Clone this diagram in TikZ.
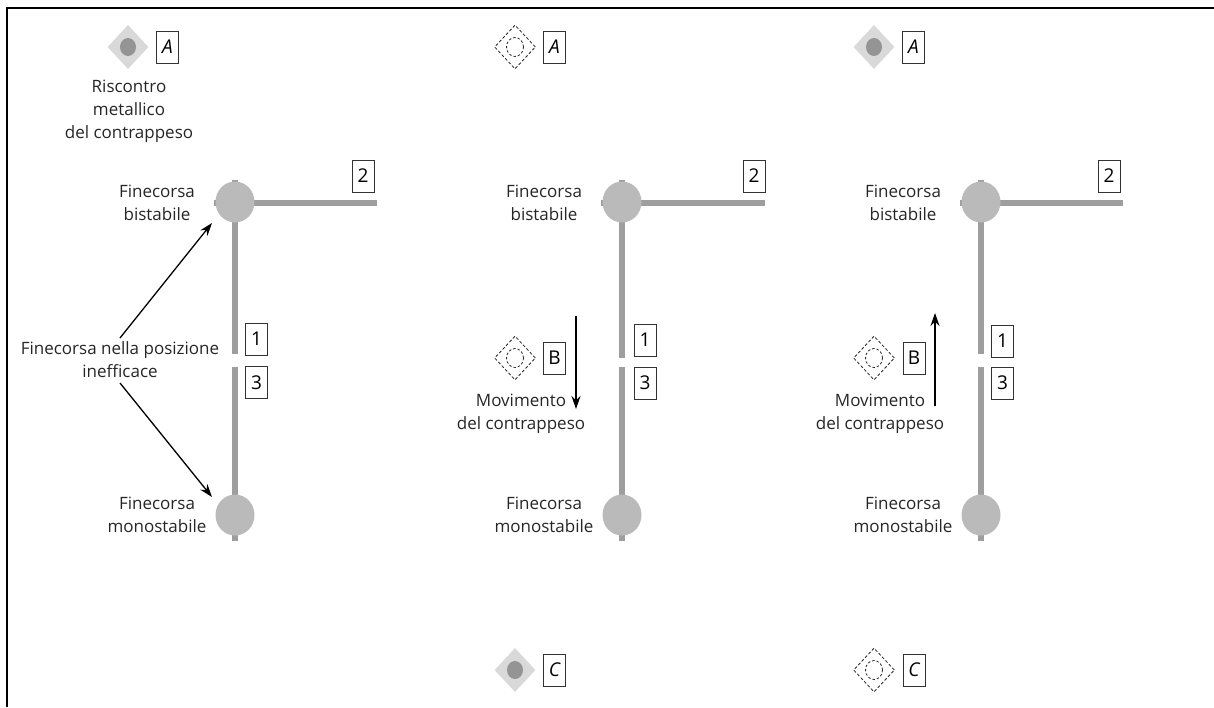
\documentclass[tikz,border=0pt]{standalone}
\usepackage{fontspec}
\setmainfont{Open Sans}
\usetikzlibrary{arrows.meta,positioning,shapes.geometric}
\definecolor{RailGrey}{rgb}{0.62,0.62,0.62}
\definecolor{SwitchGrey}{rgb}{0.73,0.73,0.73}
\definecolor{PadGrey}{rgb}{0.85,0.85,0.85}
\definecolor{SpotGrey}{rgb}{0.58,0.58,0.58}
\tikzset{
  rail/.style={draw=RailGrey,line width=6pt},
  switchdot/.style={ellipse,fill=SwitchGrey,minimum width=39pt,minimum height=41pt,inner sep=0pt},
  tag/.style={draw=black!80,line width=1pt,fill=white,minimum width=22pt,minimum height=32pt,inner sep=0pt,font=\fontsize{19}{22}\selectfont},
  tagit/.style={tag,font=\fontsize{19}{22}\selectfont\itshape},
  padon/.style={diamond,fill=PadGrey,minimum width=41pt,minimum height=44pt,inner sep=0pt},
  spoton/.style={ellipse,fill=SpotGrey,minimum width=16pt,minimum height=18pt,inner sep=0pt},
  padoff/.style={diamond,draw=black!85,line width=0.8pt,dash pattern=on 3pt off 2pt,minimum width=41pt,minimum height=44pt,inner sep=0pt},
  spotoff/.style={ellipse,draw=black!85,line width=0.8pt,dash pattern=on 2.5pt off 2pt,minimum width=17pt,minimum height=19pt,inner sep=0pt},
  lbl/.style={align=center,font=\fontsize{17}{23}\selectfont,text=black!85},
  pointer/.style={-{Stealth[length=13pt,width=9pt]},line width=1.3pt,black}
}
\begin{document}
\begin{tikzpicture}[x=1pt,y=-1pt]

    \useasboundingbox (0,0) rectangle (1214,707);

    % frame
    \coordinate (FrameB) at (7,707);
    \coordinate (FrameC) at (7,8);
    \coordinate (FrameT) at (1214,8);
    \draw[line width=1.4pt,black] (FrameB) -- (FrameC) -- (FrameT);

    % left column
    \coordinate (TopA) at (235,180);
    \coordinate (GapA) at (235,354);
    \coordinate (GapB) at (235,367);
    \coordinate (EndA) at (235,541);
    \coordinate (BackA) at (214,203);
    \coordinate (ArmA) at (377,203);
    \draw[rail] (TopA) -- (GapA);
    \draw[rail] (GapB) -- (EndA);
    \draw[rail] (BackA) -- (ArmA);
    \node[switchdot] (bistA) at (235,202) {};
    \node[switchdot] (monoA) at (235,515) {};
    \node[tag] (twoA) at (363,176) {2};
    \node[tag] (oneA) at (256.5,339) {1};
    \node[tag] (threeA) at (256.5,382.5) {3};
    \node[padon] (padA) at (128,47) {};
    \node[spoton] at (padA) {};
    \node[tagit] (tagA) at (167.5,47) {A};
    \node[lbl] (notaA) at (129,111) {Riscontro\\metallico\\del contrappeso};
    \node[lbl] (labA) at (157,203) {Finecorsa\\bistabile};
    \node[lbl] (lab1A) at (157,515) {Finecorsa\\monostabile};
    \node[lbl] (ineff) at (120,359.5) {Finecorsa nella posizione\\inefficace};
    \coordinate (ineffT) at (120,338);
    \coordinate (ineffB) at (120,383);
    \coordinate (hitT) at (212,223);
    \coordinate (hitB) at (212,497);
    \draw[pointer] (ineffT) -- (hitT);
    \draw[pointer] (ineffB) -- (hitB);

    % middle column
    \coordinate (TopB) at (622,180);
    \coordinate (GapC) at (622,358);
    \coordinate (GapD) at (622,367);
    \coordinate (EndB) at (622,541);
    \coordinate (BackB) at (601,203);
    \coordinate (ArmB) at (765,203);
    \draw[rail] (TopB) -- (GapC);
    \draw[rail] (GapD) -- (EndB);
    \draw[rail] (BackB) -- (ArmB);
    \node[switchdot] (bistB) at (622,202) {};
    \node[switchdot] (monoB) at (622,515) {};
    \node[tag] (twoB) at (754,176) {2};
    \node[tag] (oneB) at (645,340) {1};
    \node[tag] (threeB) at (645,383) {3};
    \node[padoff] (padB) at (515,47) {};
    \node[spotoff] at (padB) {};
    \node[tagit] (tagB) at (554.5,47) {A};
    \node[padoff] (padC) at (515,358) {};
    \node[spotoff] at (padC) {};
    \node[tag] (tagC) at (554.5,358) {B};
    \node[padon] (padD) at (515,670) {};
    \node[spoton] at (padD) {};
    \node[tagit] (tagD) at (554.5,670) {C};
    \node[lbl] (labB) at (544,203) {Finecorsa\\bistabile};
    \node[lbl] (lab1B) at (544,515) {Finecorsa\\monostabile};
    \node[lbl] (moveB) at (521,414) {Movimento\\del contrappeso};
    \coordinate (fromB) at (576,316);
    \coordinate (toB) at (576,409);
    \draw[pointer] (fromB) -- (toB);

    % right column
    \coordinate (TopC) at (981,180);
    \coordinate (GapE) at (981,354);
    \coordinate (GapF) at (981,367);
    \coordinate (EndC) at (981,541);
    \coordinate (BackC) at (960,203);
    \coordinate (ArmC) at (1123,203);
    \draw[rail] (TopC) -- (GapE);
    \draw[rail] (GapF) -- (EndC);
    \draw[rail] (BackC) -- (ArmC);
    \node[switchdot] (bistC) at (981,202) {};
    \node[switchdot] (monoC) at (981,515) {};
    \node[tag] (twoC) at (1109,176) {2};
    \node[tag] (oneC) at (1002.5,341) {1};
    \node[tag] (threeC) at (1002.5,383) {3};
    \node[padon] (padE) at (874,47) {};
    \node[spoton] at (padE) {};
    \node[tagit] (tagE) at (913.5,47) {A};
    \node[padoff] (padF) at (874,358) {};
    \node[spotoff] at (padF) {};
    \node[tag] (tagF) at (914,358) {B};
    \node[padoff] (padG) at (874,670) {};
    \node[spotoff] at (padG) {};
    \node[tagit] (tagG) at (914,670) {C};
    \node[lbl] (labC) at (903,203) {Finecorsa\\bistabile};
    \node[lbl] (lab1C) at (903,515) {Finecorsa\\monostabile};
    \node[lbl] (moveC) at (880,414) {Movimento\\del contrappeso};
    \coordinate (fromC) at (935,406);
    \coordinate (toC) at (935,313);
    \draw[pointer] (fromC) -- (toC);

\end{tikzpicture}
\end{document}
